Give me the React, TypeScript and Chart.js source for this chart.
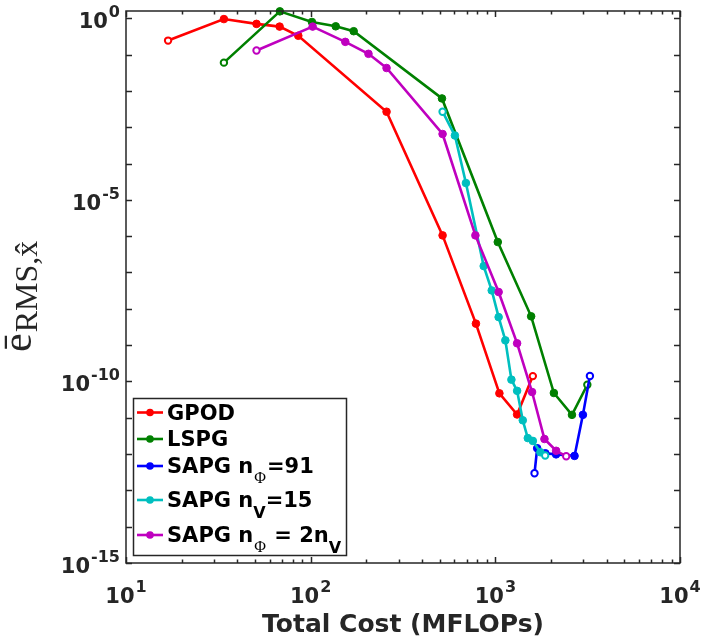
import React, { useEffect, useRef } from "react";
import { Chart, registerables } from "chart.js";

Chart.register(...registerables);

// ---- data ----
const gpodX = [16.9, 33.9, 50.9, 67.9, 85.7, 257.6, 518, 785, 1052, 1312, 1596];
const gpodY = [0.243, 0.95, 0.7, 0.59, 0.33, 2.67e-3, 1.05e-6, 3.9e-9, 4.7e-11, 1.23e-11, 1.4e-10];

const lspgX = [33.9, 68.1, 101.6, 136.7, 171, 514, 1031, 1563, 2075, 2600, 3149];
const lspgY = [0.06, 1.55, 0.79, 0.6, 0.44, 6.2e-3, 6.9e-7, 6.2e-9, 4.8e-11, 1.2e-11, 8.1e-11];

const sapg91X = [1630, 1685, 1866, 2133, 2685, 2980, 3252];
const sapg91Y = [2.95e-13, 1.45e-12, 1.05e-12, 9.8e-13, 8.9e-13, 1.2e-11, 1.41e-10];

const sapgVX = [518, 604, 693, 865, 956, 1042, 1133, 1222, 1312, 1408, 1499, 1596, 1754, 1862];
const sapgVY = [2.67e-3, 5.9e-4, 2.9e-5, 1.5e-7, 3.2e-8, 5.9e-9, 1.35e-9, 1.12e-10, 5.5e-11, 8.5e-12, 2.75e-12, 2.3e-12, 1.12e-12, 9.1e-13];

const sapg2X = [50.9, 102.5, 154, 205.6, 257.6, 518, 780, 1042, 1312, 1581, 1845, 2134, 2420];
const sapg2Y = [0.129, 0.59, 0.224, 0.105, 0.0427, 6.5e-4, 1.05e-6, 2.9e-8, 1.12e-9, 5.1e-11, 2.6e-12, 1.23e-12, 8.7e-13];

const xTickExps = [1, 2, 3, 4];
const yTickExps = [0, -5, -10, -15];
const yMajorExps = [0, -1, -2, -3, -4, -5, -6, -7, -8, -9, -10, -11, -12, -13, -14, -15];

const seriesNames = ["GPOD", "LSPG", "SAPG n_Φ=91", "SAPG n_V=15", "SAPG n_Φ = 2n_V"];
const seriesColors = ["#ff0000", "#008000", "#0000ff", "#00bfbf", "#bf00bf"];

const AXIS = "#262626";
const SANS = "'DejaVu Sans'";
const SERIF = "'Liberation Serif'";

function makeDataset(xs: number[], ys: number[], color: string, idx: number) {
  const n = xs.length;
  const isOpen = (i: number) => i === 0 || i === n - 1;
  return {
    label: seriesNames[idx],
    data: xs.map((x, i) => ({ x, y: ys[i] })),
    borderColor: color,
    backgroundColor: color,
    borderWidth: 2.6,
    pointRadius: xs.map((_, i) => (isOpen(i) ? 3.2 : 3.8)),
    pointBorderWidth: xs.map((_, i) => (isOpen(i) ? 2 : 1)),
    pointBackgroundColor: xs.map((_, i) => (isOpen(i) ? "#ffffff" : color)),
    pointBorderColor: color,
    tension: 0,
    clip: false as const,
    order: 10 - idx,
  };
}

function drawPow(ctx: CanvasRenderingContext2D, exp: string, x: number, baseline: number, mode: "center" | "right") {
  const baseFont = `bold 21px ${SANS}`;
  const expFont = `bold 16px ${SANS}`;
  ctx.font = baseFont;
  const bw = ctx.measureText("10").width;
  ctx.font = expFont;
  const ew = ctx.measureText(exp).width;
  const total = bw + 1 + ew;
  const start = mode === "center" ? x - total / 2 : x - total;
  ctx.textAlign = "left";
  ctx.textBaseline = "alphabetic";
  ctx.font = baseFont;
  ctx.fillText("10", start, baseline);
  ctx.font = expFont;
  ctx.fillText(exp, start + bw + 1, baseline - 11);
}

const framePlugin = {
  id: "matlabFrame",
  afterDraw(chart: any) {
    const ctx: CanvasRenderingContext2D = chart.ctx;
    const xs = chart.scales.x;
    const ys = chart.scales.y;
    const { left, right, top, bottom } = chart.chartArea;
    ctx.save();
    ctx.strokeStyle = AXIS;
    ctx.fillStyle = AXIS;
    ctx.lineWidth = 1.5;
    // ticks
    ctx.beginPath();
    for (let d = 1; d <= 4; d++) {
      for (let k = 1; k <= 9; k++) {
        if (d === 4 && k > 1) break;
        const v = k * Math.pow(10, d);
        const px = Math.round(xs.getPixelForValue(v)) + 0.5;
        const len = k === 1 ? 6 : 3.5;
        ctx.moveTo(px, bottom);
        ctx.lineTo(px, bottom - len);
        ctx.moveTo(px, top);
        ctx.lineTo(px, top + len);
      }
    }
    for (const e of yMajorExps) {
      const py = Math.round(ys.getPixelForValue(Math.pow(10, e))) + 0.5;
      ctx.moveTo(left, py);
      ctx.lineTo(left + 6, py);
      ctx.moveTo(right, py);
      ctx.lineTo(right - 6, py);
    }
    ctx.stroke();
    ctx.strokeRect(left, top, right - left, bottom - top);

    // tick labels
    for (const e of xTickExps) {
      const px = xs.getPixelForValue(Math.pow(10, e));
      drawPow(ctx, String(e), px, 603, "center");
    }
    for (const e of yTickExps) {
      const py = ys.getPixelForValue(Math.pow(10, e));
      drawPow(ctx, String(e), 120, py + 10, "right");
    }

    // x title
    ctx.font = `bold 25px ${SANS}`;
    ctx.textAlign = "center";
    ctx.textBaseline = "alphabetic";
    ctx.fillText("Total Cost (MFLOPs)", (left + right) / 2, 632);

    // y title (rotated)
    ctx.save();
    ctx.translate(31, 352);
    ctx.rotate(-Math.PI / 2);
    ctx.textAlign = "left";
    ctx.font = `42px ${SERIF}`;
    ctx.fillText("ē", 0, 0);
    const ew = ctx.measureText("ē").width;
    ctx.font = `32px ${SERIF}`;
    ctx.fillText("RMS,x\u0302", ew + 1, 6);
    ctx.restore();

    // legend
    const bx = 133.5, by = 398.5, bw = 213, bh = 157;
    ctx.fillStyle = "#ffffff";
    ctx.fillRect(bx, by, bw, bh);
    ctx.strokeStyle = AXIS;
    ctx.lineWidth = 1.5;
    ctx.strokeRect(bx, by, bw, bh);
    const baselines = [419.5, 446, 473, 507, 542];
    type Seg = { t: string; sub?: "serif" | "sans" };
    const rows: Seg[][] = [
      [{ t: "GPOD" }],
      [{ t: "LSPG" }],
      [{ t: "SAPG n" }, { t: "Φ", sub: "serif" }, { t: "=91" }],
      [{ t: "SAPG n" }, { t: "V", sub: "sans" }, { t: "=15" }],
      [{ t: "SAPG n" }, { t: "Φ", sub: "serif" }, { t: " = 2n" }, { t: "V", sub: "sans" }],
    ];
    rows.forEach((segs, i) => {
      const bl = baselines[i];
      const ly = bl - 7;
      const c = seriesColors[i];
      ctx.strokeStyle = c;
      ctx.lineWidth = 2.6;
      ctx.beginPath();
      ctx.moveTo(137, ly);
      ctx.lineTo(163, ly);
      ctx.stroke();
      ctx.fillStyle = c;
      ctx.beginPath();
      ctx.arc(150, ly, 3.8, 0, Math.PI * 2);
      ctx.fill();
      ctx.fillStyle = "#000000";
      ctx.textAlign = "left";
      let x = 167;
      for (const s of segs) {
        if (s.sub === "serif") {
          ctx.font = `16px ${SERIF}`;
          ctx.fillText(s.t, x + 1, bl + 10);
          x += ctx.measureText(s.t).width + 2;
        } else if (s.sub === "sans") {
          ctx.font = `bold 16px ${SANS}`;
          ctx.fillText(s.t, x, bl + 11);
          x += ctx.measureText(s.t).width;
        } else {
          ctx.font = `bold 21px ${SANS}`;
          ctx.fillText(s.t, x, bl);
          x += ctx.measureText(s.t).width;
        }
      }
    });
    ctx.restore();
  },
};

export default function App() {
  const ref = useRef<HTMLCanvasElement | null>(null);
  useEffect(() => {
    if (!ref.current) return;
    const chart = new Chart(ref.current, {
      type: "line",
      data: {
        datasets: [
          makeDataset(gpodX, gpodY, seriesColors[0], 0),
          makeDataset(lspgX, lspgY, seriesColors[1], 1),
          makeDataset(sapg91X, sapg91Y, seriesColors[2], 2),
          makeDataset(sapgVX, sapgVY, seriesColors[3], 3),
          makeDataset(sapg2X, sapg2Y, seriesColors[4], 4),
        ] as any,
      },
      options: {
        animation: false,
        responsive: false,
        maintainAspectRatio: false,
        layout: { padding: { left: 126, right: 27, top: 11, bottom: 80 } },
        plugins: { legend: { display: false }, tooltip: { enabled: false } },
        scales: {
          x: { type: "logarithmic", min: 10, max: 10000, display: false },
          y: { type: "logarithmic", min: 1e-15, max: Math.pow(10, 0.2), display: false },
        },
      },
      plugins: [framePlugin],
    });
    return () => chart.destroy();
  }, []);
  return (
    <div style={{ position: "absolute", left: 0, top: 0, width: 707, height: 643, background: "#ffffff" }}>
      <canvas ref={ref} width={707} height={643} style={{ width: 707, height: 643 }} />
    </div>
  );
}
